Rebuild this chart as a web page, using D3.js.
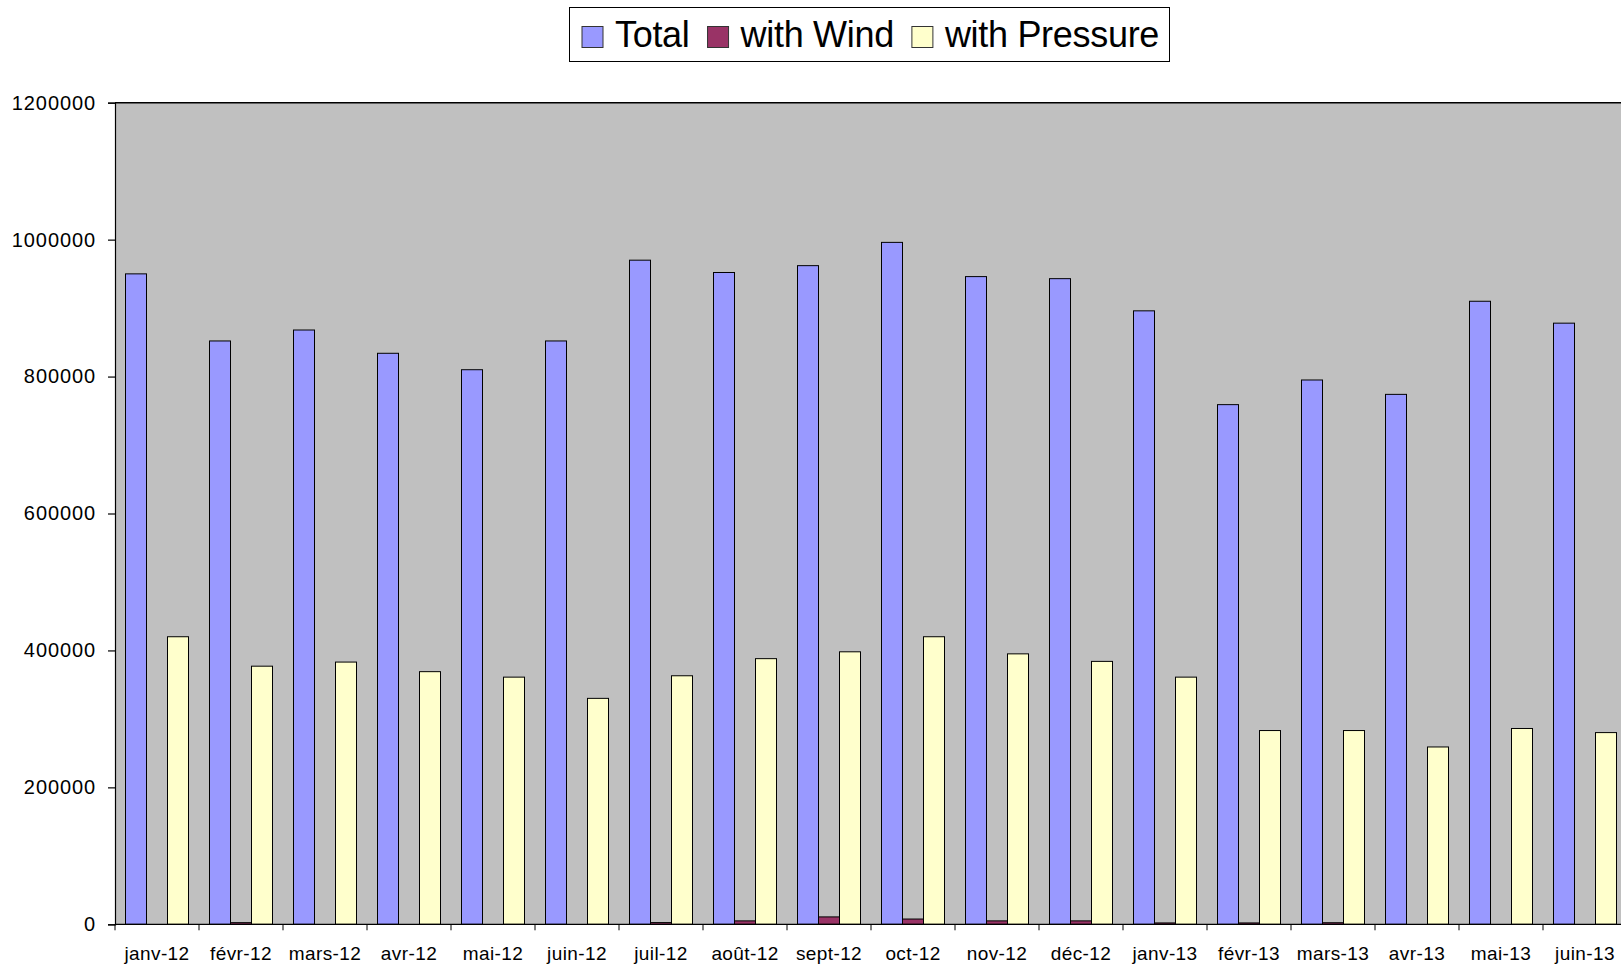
<!DOCTYPE html>
<html>
<head>
<meta charset="utf-8">
<script src="https://d3js.org/d3.v7.min.js"></script>
<style>
  body { margin: 0; background: #fff; }
  svg text { font-family: Arial, "Liberation Sans", sans-serif; fill: #000; }
</style>
</head>
<body>
<div id="chart"></div>
<script>
// months shown on the x axis
let categories = ["janv-12", "févr-12", "mars-12", "avr-12", "mai-12", "juin-12",
                  "juil-12", "août-12", "sept-12", "oct-12", "nov-12", "déc-12",
                  "janv-13", "févr-13", "mars-13", "avr-13", "mai-13", "juin-13"];

let totalValues = [950000, 852000, 868000, 834000, 810000, 852000,
                   970000, 952000, 962000, 996000, 946000, 943000,
                   896000, 759000, 795000, 774000, 910000, 878000];

let windValues = [0, 2400, 0, 0, 0, 0,
                  2500, 5000, 10800, 7700, 5000, 5000,
                  2000, 2000, 2300, 0, 0, 0];

let pressureValues = [420000, 377000, 383000, 369000, 361000, 330000,
                      363000, 388000, 398000, 420000, 395000, 384000,
                      361000, 283000, 283000, 259000, 286000, 280000];

let seriesNames = ["Total", "with Wind", "with Pressure"];
let seriesColors = ["#9999FF", "#993366", "#FFFFCC"];
let yTicks = [0, 200000, 400000, 600000, 800000, 1000000, 1200000];

let width = 1621, height = 966;
let plotLeft = 115, plotTop = 102.7, plotBottom = 924.3;
let step = 84; // the plot runs past the right edge of the picture
let plotRight = plotLeft + categories.length * step;

let svg = d3.select("#chart").append("svg")
    .attr("width", width)
    .attr("height", height);

let xScale = d3.scaleBand()
    .domain(categories)
    .range([plotLeft, plotRight])
    .padding(0);

let seriesScale = d3.scaleBand()
    .domain(seriesNames)
    .range([0, xScale.bandwidth()])
    .paddingInner(0)
    .paddingOuter(0.5);

let yScale = d3.scaleLinear()
    .domain([0, 1200000])
    .range([plotBottom, plotTop]);

// grey plot area
svg.append("rect")
    .attr("x", plotLeft)
    .attr("y", plotTop)
    .attr("width", plotRight - plotLeft)
    .attr("height", plotBottom - plotTop)
    .attr("fill", "#C0C0C0");

// one row per month
let rows = categories.map((c, i) => ({
    cat: c,
    vals: [totalValues[i], windValues[i], pressureValues[i]]
}));

let groups = svg.append("g").selectAll("g")
    .data(rows)
    .enter()
    .append("g")
    .attr("transform", d => "translate(" + xScale(d.cat) + ",0)");

groups.selectAll("rect")
    .data(d => d.vals.map((v, k) => ({name: seriesNames[k], value: v, k: k})))
    .enter()
    .append("rect")
    .attr("x", d => seriesScale(d.name))
    .attr("y", d => yScale(d.value))
    .attr("width", seriesScale.bandwidth())
    .attr("height", d => yScale(0) - yScale(d.value))
    .attr("fill", d => seriesColors[d.k])
    .attr("stroke", "#000")
    .attr("stroke-width", 1);

// top border of the plot
svg.append("line")
    .attr("x1", plotLeft).attr("x2", plotRight)
    .attr("y1", plotTop).attr("y2", plotTop)
    .attr("stroke", "#000")
    .attr("stroke-width", 1.5);

// y axis
let yAxis = d3.axisLeft(yScale)
    .tickValues(yTicks)
    .tickFormat(d3.format("d"))
    .tickSize(7)
    .tickPadding(12);

let gy = svg.append("g")
    .attr("transform", "translate(" + plotLeft + ",0)")
    .call(yAxis);
gy.selectAll("text")
    .style("font-size", "20px")
    .style("letter-spacing", "0.9px")
    .style("font-family", "Arial, 'Liberation Sans', sans-serif");
gy.selectAll("line, path").attr("stroke", "#000").attr("stroke-width", 1.2);

// x axis: ticks at category boundaries, labels centred
let xAxisG = svg.append("g");
xAxisG.append("line")
    .attr("x1", plotLeft).attr("x2", plotRight)
    .attr("y1", plotBottom).attr("y2", plotBottom)
    .attr("stroke", "#000")
    .attr("stroke-width", 1.2);

xAxisG.selectAll(".xtick")
    .data(categories)
    .enter()
    .append("line")
    .attr("x1", d => xScale(d)).attr("x2", d => xScale(d))
    .attr("y1", plotBottom).attr("y2", plotBottom + 6)
    .attr("stroke", "#000");

xAxisG.selectAll(".xlabel")
    .data(categories)
    .enter()
    .append("text")
    .attr("x", d => xScale(d) + xScale.bandwidth() / 2)
    .attr("y", 960)
    .attr("text-anchor", "middle")
    .style("font-size", "19px")
    .style("letter-spacing", "0.4px")
    .text(d => d);

// legend
let legend = svg.append("g");
legend.append("rect")
    .attr("x", 569.5).attr("y", 7.5)
    .attr("width", 600).attr("height", 54)
    .attr("fill", "#fff")
    .attr("stroke", "#000")
    .attr("stroke-width", 1);

let lx = 582;
seriesNames.forEach((name, k) => {
    legend.append("rect")
        .attr("x", lx).attr("y", 26.5)
        .attr("width", 21).attr("height", 21)
        .attr("fill", seriesColors[k])
        .attr("stroke", "#333")
        .attr("stroke-width", 1);
    let t = legend.append("text")
        .attr("x", lx + 33)
        .attr("y", 47)
        .style("font-size", "36px")
        .style("letter-spacing", "-0.3px")
        .text(name);
    lx = lx + 33 + t.node().getComputedTextLength() + 18;
});
</script>
</body>
</html>
